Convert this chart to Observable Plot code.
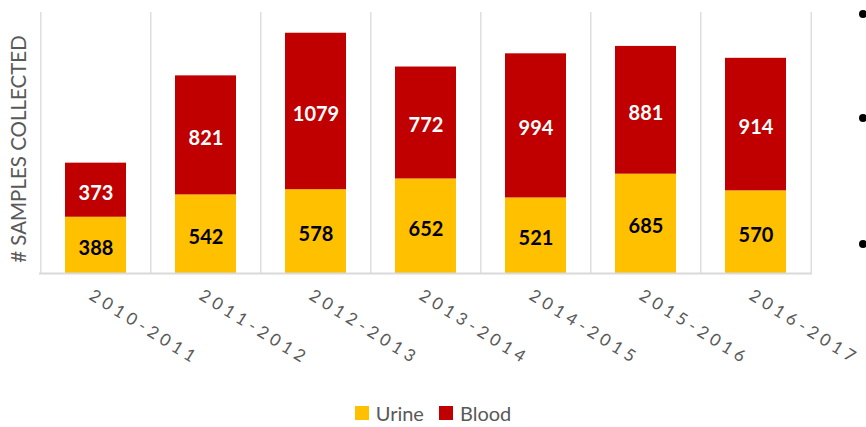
<!DOCTYPE html>
<html>
<head>
<meta charset="utf-8">
<script src="https://cdn.jsdelivr.net/npm/d3@7"></script>
<script src="https://cdn.jsdelivr.net/npm/@observablehq/plot@0.6"></script>
<style>
  html, body { margin: 0; padding: 0; background: #fff; }
  #wrap { position: relative; width: 866px; height: 427px; overflow: hidden; font-family: Lato, "Open Sans", sans-serif; }
  #legend { position: absolute; left: 0; top: 401px; width: 866px; display: flex; justify-content: center; align-items: center; gap: 15px; font-size: 20px; color: #595959; padding-left: 0; }
  #legend .item { display: flex; align-items: center; gap: 7px; }
  #legend .sw { width: 14px; height: 14px; display: inline-block; }
  .bullet { position: absolute; width: 8px; height: 8px; border-radius: 50%; background: #000; }
</style>
</head>
<body>
<div id="wrap"></div>
<script>
const years = ["2010-2011","2011-2012","2012-2013","2013-2014","2014-2015","2015-2016","2016-2017"];
const urine = [388, 542, 578, 652, 521, 685, 570];
const blood = [373, 821, 1079, 772, 994, 881, 914];
const seriesNames = ["Urine", "Blood"];
const seriesColors = ["#FFC000", "#C00000"];
const yLabel = "# SAMPLES COLLECTED";

const rows = [];
years.forEach((yr, i) => {
  rows.push({year: yr, series: "Urine", value: urine[i]});
  rows.push({year: yr, series: "Blood", value: blood[i]});
});

const W = 866, H = 395, mL = 39, mR = 54, mT = 12, mB = 122;
const step = (W - mL - mR) / years.length;

const chart = Plot.plot({
  width: W,
  height: H,
  marginLeft: mL,
  marginRight: mR,
  marginTop: mT,
  marginBottom: mB,
  style: {fontFamily: "Lato, 'Open Sans', sans-serif", background: "#fff"},
  x: {domain: years, paddingInner: 0.442, paddingOuter: 0.221, axis: null},
  y: {domain: [0, 1800], axis: null},
  color: {domain: seriesNames, range: seriesColors},
  marks: [
    Plot.ruleX(years, {x: d => d, dx: -step / 2, stroke: "#d9d9d9", strokeWidth: 1.3}),
    Plot.ruleX([years[years.length - 1]], {x: d => d, dx: step / 2, stroke: "#d9d9d9", strokeWidth: 1.3}),
    Plot.barY(rows, {x: "year", y: "value", fill: "series"}),
    Plot.ruleY([0], {stroke: "#d9d9d9", strokeWidth: 2}),
    Plot.text(rows, Plot.stackY({x: "year", y: "value", z: "series",
      text: d => d.series === "Urine" ? String(d.value) : null,
      fill: "#000", fontSize: 20, fontWeight: "bold", dy: 3})),
    Plot.text(rows, Plot.stackY({x: "year", y: "value", z: "series",
      text: d => d.series === "Blood" ? String(d.value) : null,
      fill: "#fff", fontSize: 20, fontWeight: "bold", dy: 3})),
    Plot.text(years, {x: d => d, frameAnchor: "bottom", text: d => d, rotate: 32,
      textAnchor: "start", fontSize: 17, fill: "#595959", dx: -8, dy: 25}),
    Plot.text([yLabel], {frameAnchor: "left", text: d => d, rotate: -90, textAnchor: "middle",
      dx: -20, dy: 6, fontSize: 20.5, fill: "#595959"})
  ]
});

d3.select(chart).selectAll("text")
  .filter(function() { return years.includes(this.textContent); })
  .style("letter-spacing", "4.5px");

const wrap = document.getElementById("wrap");
wrap.appendChild(chart);

const legend = document.createElement("div");
legend.id = "legend";
seriesNames.forEach((name, i) => {
  const item = document.createElement("div");
  item.className = "item";
  const sw = document.createElement("span");
  sw.className = "sw";
  sw.style.background = seriesColors[i];
  const lab = document.createElement("span");
  lab.textContent = name;
  item.appendChild(sw);
  item.appendChild(lab);
  legend.appendChild(item);
});
wrap.appendChild(legend);

[14, 118, 244].forEach(y => {
  const b = document.createElement("div");
  b.className = "bullet";
  b.style.left = "859px";
  b.style.top = (y - 4) + "px";
  wrap.appendChild(b);
});
</script>
</body>
</html>
